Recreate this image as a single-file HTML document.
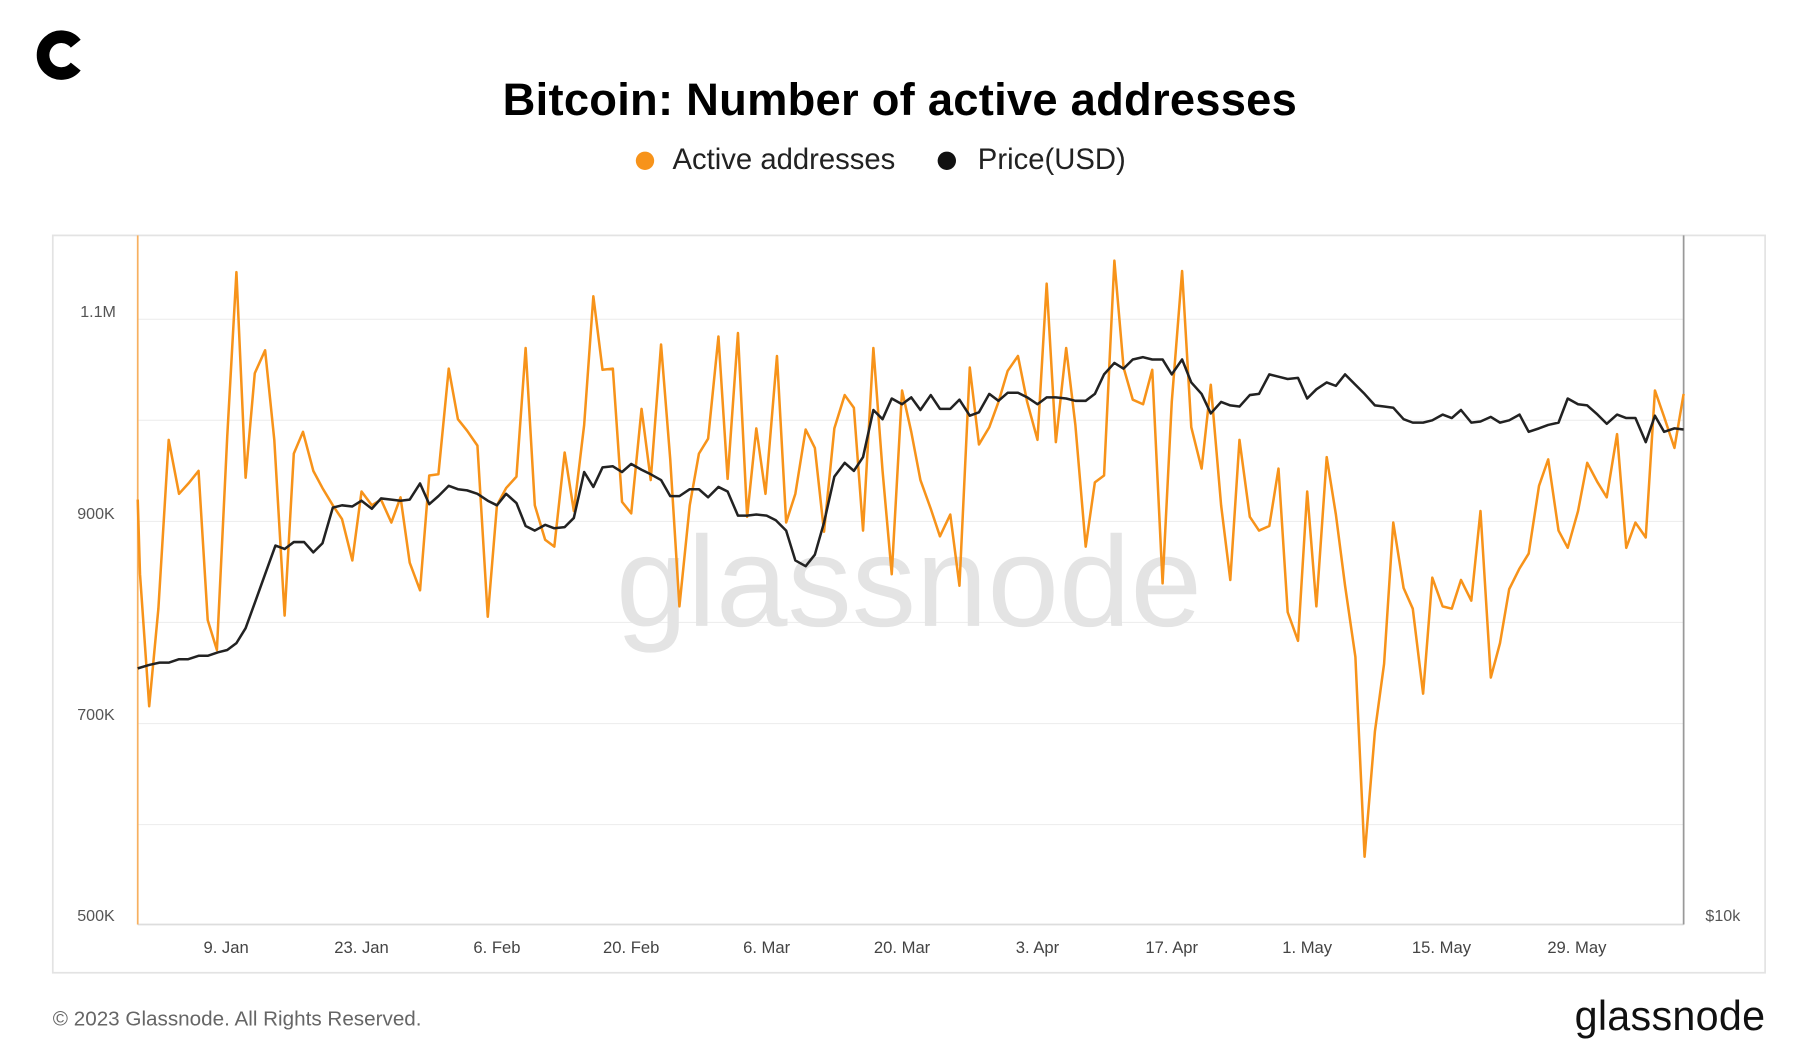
<!DOCTYPE html>
<html><head><meta charset="utf-8"><style>
html,body{margin:0;padding:0;background:#fff;width:1800px;height:1063px;overflow:hidden}
svg{display:block}
text{font-family:"Liberation Sans",sans-serif}
</style></head><body>
<svg width="1800" height="1063" viewBox="0 0 1568.4 925.6" preserveAspectRatio="none" xmlns="http://www.w3.org/2000/svg">
<rect width="1569" height="926" fill="#fff"/>
<g transform="translate(52,48)">
<path d="M14,-10 A16,16 0 1 0 14,10" fill="none" stroke="#000" stroke-width="11"/>
</g>
<text x="784" y="100" text-anchor="middle" font-size="39.5" font-weight="bold" fill="#000" textLength="692">Bitcoin: Number of active addresses</text>
<circle cx="562" cy="140" r="8" fill="#f7931a"/>
<text x="586" y="147" font-size="25.5" fill="#222">Active addresses</text>
<circle cx="825" cy="140" r="8" fill="#111"/>
<text x="852" y="147" font-size="25.5" fill="#222">Price(USD)</text>
<rect x="46" y="205" width="1492" height="642" fill="none" stroke="#e3e3e3" stroke-width="1.5"/>
<g stroke="#eeeeee" stroke-width="1">
<line x1="120" x2="1467" y1="278" y2="278"/>
<line x1="120" x2="1467" y1="366" y2="366"/>
<line x1="120" x2="1467" y1="454" y2="454"/>
<line x1="120" x2="1467" y1="542" y2="542"/>
<line x1="120" x2="1467" y1="630" y2="630"/>
<line x1="120" x2="1467" y1="718" y2="718"/>
</g>
<text x="792" y="545" text-anchor="middle" font-size="112" fill="#e4e4e4">glassnode</text>
<line x1="120" y1="805" x2="1467" y2="805" stroke="#ddd" stroke-width="1.5"/>
<line x1="120" y1="205" x2="120" y2="805" stroke="#f7b060" stroke-width="1.5"/>
<line x1="1467" y1="205" x2="1467" y2="805" stroke="#999" stroke-width="1.5"/>
<g font-size="14" fill="#555" text-anchor="end">
<text x="101" y="276">1.1M</text>
<text x="100" y="452">900K</text>
<text x="100" y="627">700K</text>
<text x="100" y="802">500K</text>
</g>
<text x="1486" y="802" font-size="14" fill="#555">$10k</text>
<g font-size="14.5" fill="#444" text-anchor="middle">
<text x="197" y="830">9. Jan</text><text x="315" y="830">23. Jan</text><text x="433" y="830">6. Feb</text><text x="550" y="830">20. Feb</text><text x="668" y="830">6. Mar</text><text x="786" y="830">20. Mar</text><text x="904" y="830">3. Apr</text><text x="1021" y="830">17. Apr</text><text x="1139" y="830">1. May</text><text x="1256" y="830">15. May</text><text x="1374" y="830">29. May</text>
</g>
<polyline fill="none" stroke="#f7931a" stroke-width="2.2" stroke-linejoin="round" points="120,435 122,500 130,615 138,530 147,383 156,430 165,420 173,410 181,540 189,566 198,380 206,237 214,416 222,325 231,305 239,383 248,536 256,395 264,376 273,410 281,425 290,440 298,452 307,488 315,428 324,440 332,435 341,455 349,433 357,490 366,514 374,414 382,413 391,321 399,365 407,375 416,388 425,537 433,440 441,425 450,415 458,303 466,440 475,470 483,476 492,394 500,445 509,370 517,258 525,322 534,321 542,437 550,447 559,356 567,418 576,300 584,400 592,528 601,440 609,395 617,382 626,293 634,417 643,290 651,450 659,373 667,430 677,310 685,455 693,430 702,374 710,390 718,463 727,373 736,344 744,355 752,462 761,303 769,410 777,500 786,340 794,376 802,418 811,443 819,467 828,448 836,510 845,320 853,387 862,372 870,350 878,323 887,310 895,350 904,383 912,247 920,385 929,303 937,370 946,476 954,420 962,414 971,227 979,320 987,348 996,352 1004,322 1013,508 1021,350 1030,236 1038,372 1047,408 1055,335 1064,440 1072,505 1080,383 1089,450 1097,462 1106,458 1114,408 1122,533 1131,558 1139,428 1147,528 1156,398 1164,448 1172,510 1181,572 1189,746 1198,637 1206,578 1214,455 1223,512 1231,530 1240,604 1248,503 1257,528 1265,530 1273,505 1282,523 1290,445 1299,590 1307,560 1315,513 1324,495 1332,482 1341,423 1349,400 1358,462 1366,477 1375,445 1383,403 1392,420 1400,433 1409,378 1417,477 1425,455 1434,468 1442,340 1450,363 1459,390 1467,343"/>
<polyline fill="none" stroke="#222" stroke-width="2.2" stroke-linejoin="round" points="120,582 130,579 139,577 147,577 156,574 164,574 173,571 181,571 190,568 198,566 206,560 214,547 222,525 231,500 240,475 248,478 256,472 265,472 273,481 281,473 290,442 298,440 307,441 315,436 324,443 332,434 341,435 349,436 357,435 366,421 374,439 382,432 391,423 399,426 407,427 416,430 425,436 433,440 441,430 450,438 458,458 466,462 475,457 483,460 492,459 500,451 509,411 517,424 525,407 534,406 542,411 550,404 559,409 567,413 576,418 584,432 592,432 601,426 609,426 617,433 626,424 634,428 643,449 651,449 659,448 668,449 676,453 685,462 693,488 702,493 710,483 718,455 727,415 736,403 744,410 752,398 761,357 769,365 777,347 786,352 794,346 802,357 811,344 819,356 828,356 836,348 845,362 853,359 862,343 870,349 878,342 887,342 895,346 904,352 912,346 920,346 929,347 937,349 946,349 954,343 962,326 971,316 979,321 987,313 996,311 1004,313 1013,313 1021,326 1030,313 1038,333 1047,343 1055,360 1064,350 1072,353 1080,354 1089,344 1097,343 1106,326 1114,328 1122,330 1131,329 1139,347 1147,339 1156,333 1164,336 1172,326 1181,335 1189,343 1198,353 1206,354 1214,355 1223,365 1231,368 1240,368 1248,366 1257,361 1265,364 1273,357 1282,368 1290,367 1299,363 1307,368 1315,366 1324,361 1332,376 1341,373 1349,370 1358,368 1366,347 1375,352 1383,353 1392,361 1400,369 1409,361 1417,364 1425,364 1434,385 1442,362 1450,376 1459,373 1467,374"/>
<text x="46" y="893" font-size="18" fill="#666">© 2023 Glassnode. All Rights Reserved.</text>
<text x="1538" y="897" text-anchor="end" font-size="36" fill="#111" textLength="166">glassnode</text>
</svg>
</body></html>
